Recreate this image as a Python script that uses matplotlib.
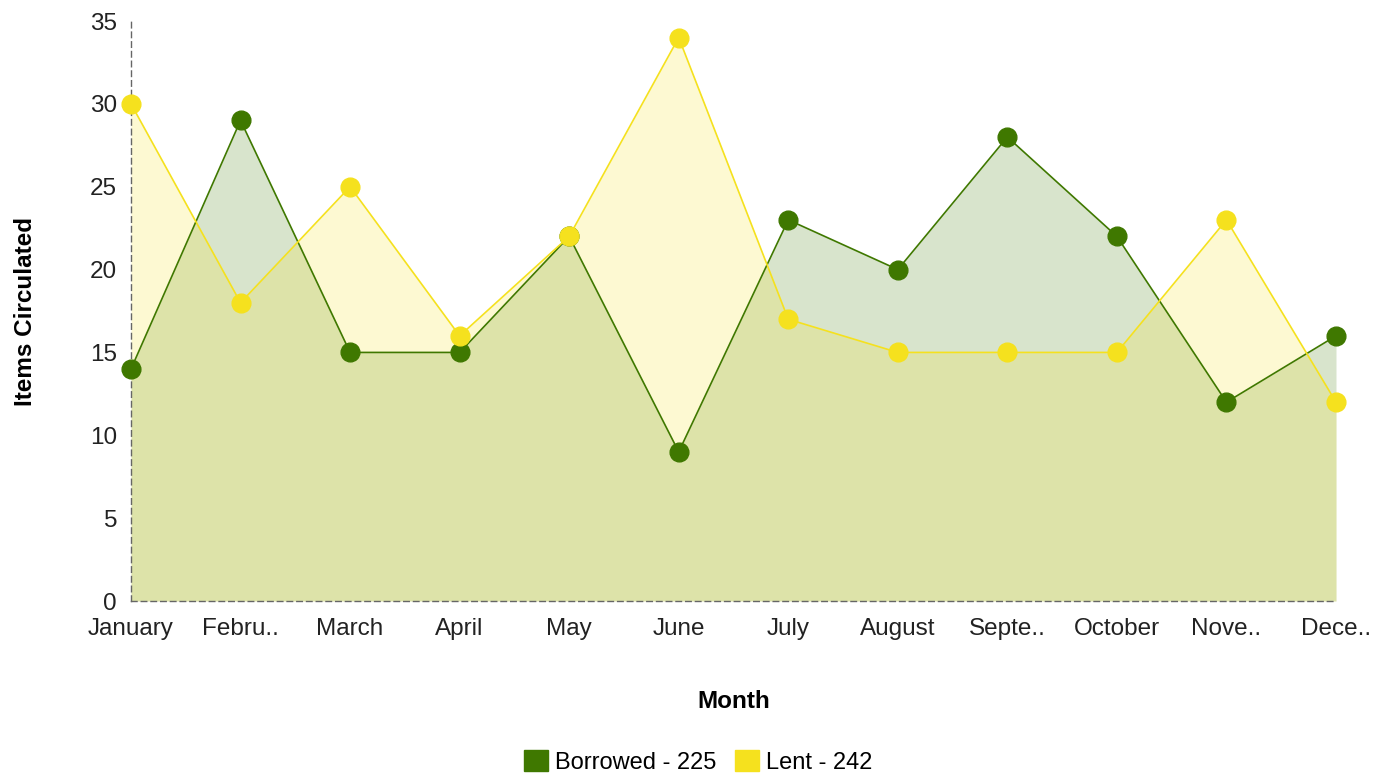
import matplotlib
matplotlib.use("Agg")
import matplotlib.pyplot as plt
from matplotlib.patches import Patch

months = ["January", "Febru..", "March", "April", "May", "June",
          "July", "August", "Septe..", "October", "Nove..", "Dece.."]
borrowed = [14, 29, 15, 15, 22, 9, 23, 20, 28, 22, 12, 16]
lent = [30, 18, 25, 16, 22, 34, 17, 15, 15, 15, 23, 12]

green = "#3f7800"
yellow = "#f5e11e"

plt.rcParams['font.family'] = ['Liberation Sans', 'DejaVu Sans']

fig = plt.figure(figsize=(13.83, 7.75), dpi=100)
ax = fig.add_axes([131 / 1383, 1 - 601 / 775, (1336 - 131) / 1383, (601 - 21) / 775])

x = list(range(len(months)))

ax.fill_between(x, 0, borrowed, color=green, alpha=0.2, linewidth=0, zorder=1)
ax.fill_between(x, 0, lent, color=yellow, alpha=0.2, linewidth=0, zorder=1)
ax.plot(x, borrowed, color=green, lw=1.2, marker='o', ms=13.5, zorder=3, clip_on=False)
ax.plot(x, lent, color=yellow, lw=1.2, marker='o', ms=13.5, zorder=3, clip_on=False)

ax.set_xlim(0, len(months) - 1)
ax.set_ylim(0, 35)
ax.set_yticks(range(0, 36, 5))
ax.set_xticks(x)
ax.set_xticklabels(months)
ax.tick_params(length=0, labelsize=17.5, colors='#222222')
ax.tick_params(axis='x', pad=12)
ax.tick_params(axis='y', pad=10)

for side in ['top', 'right']:
    ax.spines[side].set_visible(False)
for side in ['left', 'bottom']:
    ax.spines[side].set_linestyle((0, (4, 3)))
    ax.spines[side].set_color('#666666')
    ax.spines[side].set_linewidth(1)

ax.set_xlabel("Month", fontsize=17.5, fontweight='bold', labelpad=36)
ax.set_ylabel("Items Circulated", fontsize=17.5, fontweight='bold', labelpad=38)

handles = [Patch(color=green, label="Borrowed - " + str(sum(borrowed))),
           Patch(color=yellow, label="Lent - " + str(sum(lent)))]
fig.legend(handles=handles, loc='center', bbox_to_anchor=(698 / 1383, 1 - 762 / 775),
           ncol=2, frameon=False, fontsize=17, handlelength=1.0, handleheight=1.0,
           handletextpad=0.3, columnspacing=0.8)

fig.savefig("out.png", dpi=100)
